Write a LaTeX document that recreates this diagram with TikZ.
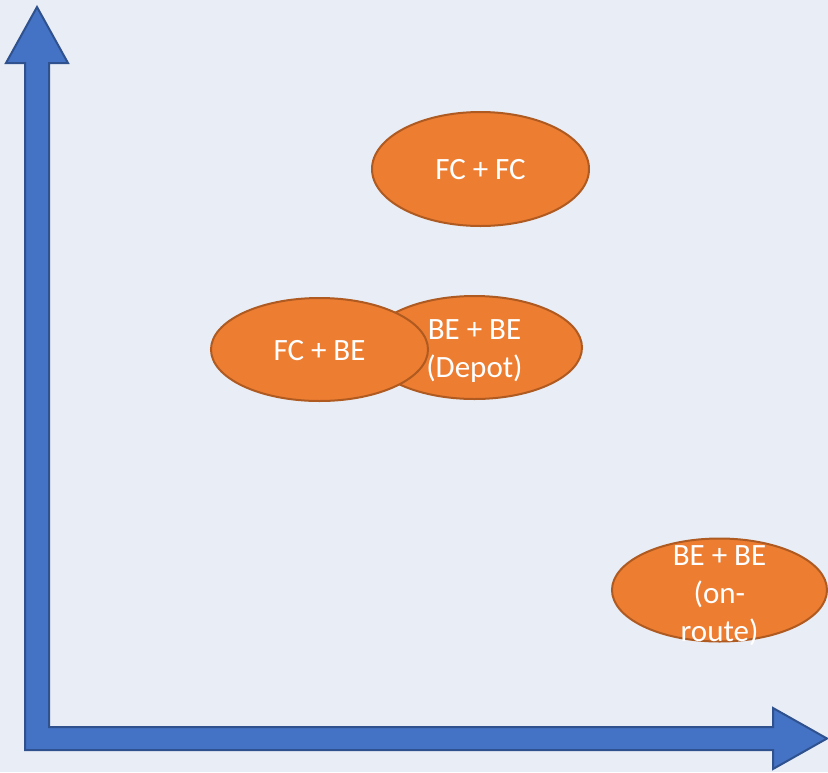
\documentclass[tikz,border=0pt]{standalone}
\usepackage{fontspec}
\setmainfont{Carlito}
\usetikzlibrary{shapes.geometric}
\definecolor{bg}{HTML}{E9EDF5}
\definecolor{axfill}{HTML}{4472C4}
\definecolor{axline}{HTML}{2F528F}
\definecolor{ofill}{HTML}{ED7D31}
\definecolor{oline}{HTML}{AE5A21}
\tikzset{
  blob/.style={ellipse, fill=ofill, draw=oline, line width=2pt, inner sep=0pt, minimum width=217pt, minimum height=#1},
  blob/.default=103pt,
  lbl/.style={text=white, align=center, font=\fontsize{31}{38}\selectfont, inner sep=0pt},
  axis/.style={fill=axfill, draw=axline, line width=2pt, line join=miter}
}
\begin{document}
\begin{tikzpicture}[x=1pt,y=-1pt]
\fill[bg] (0,0) rectangle (828,772);
\useasboundingbox (0,0) rectangle (828,772);
% axes
\draw[axis] (37,7) -- (68,63) -- (49,63) -- (49,727) -- (773,727) -- (773,708) -- (827,738.5) -- (773,769) -- (773,750) -- (25,750) -- (25,63) -- (6,63) -- cycle;
% ellipses
\node[blob=114pt] (fcfc) at (480.5,169) {};
\node[blob, minimum width=215pt] (bebed) at (474.5,347.5) {};
\node[blob] (fcbe) at (319.5,349.5) {};
\node[blob, minimum width=215pt] (bebeo) at (719.5,590) {};
% labels
\node[lbl] (tfcfc) at ([yshift=-1pt]fcfc) {FC + FC};
\node[lbl] (tbebed) at ([yshift=-4pt]bebed) {BE + BE\\(Depot)};
\node[lbl] (tfcbe) at ([yshift=-1pt]fcbe) {FC + BE};
\node[lbl] (tbebeo) at ([yshift=-6pt]bebeo) {BE + BE\\(on-\\route)};
\end{tikzpicture}
\end{document}
